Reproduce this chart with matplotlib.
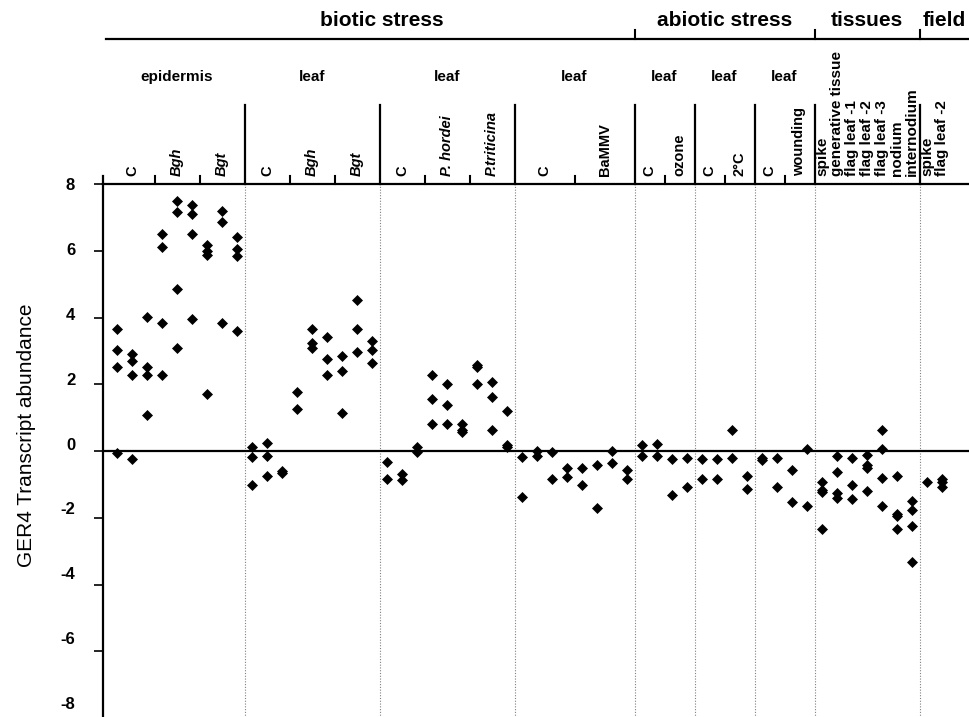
import matplotlib.pyplot as plt
from matplotlib.transforms import blended_transform_factory, ScaledTranslation

plt.rcParams['font.family'] = ['Liberation Sans', 'DejaVu Sans']

# GER4 transcript abundance, one inner list per replicate column
epi_C = [[3.66, 3.02, 2.52, -0.07], [2.91, 2.70, 2.27, -0.25], [4.02, 2.53, 2.27, 1.07]]
epi_Bgh = [[6.49, 6.10, 3.84, 2.27], [7.50, 7.17, 4.84, 3.09], [7.37, 7.10, 6.49, 3.96]]
epi_Bgt = [[6.17, 5.99, 5.86, 1.70], [7.18, 6.85, 3.85], [6.41, 6.05, 5.85, 3.59]]

leaf_C = [[0.13, -0.19, -1.02], [0.25, -0.14, -0.75], [-0.60, -0.65]]
leaf_Bgh = [[1.77, 1.26], [3.66, 3.23, 3.09], [3.42, 2.77, 2.27]]
leaf_Bgt = [[2.84, 2.40, 1.14], [4.53, 3.66, 2.96], [3.29, 3.03, 2.64]]

rust_C = [[-0.32, -0.85], [-0.69, -0.87], [0.13, -0.02]]
rust_Ph = [[2.27, 1.57, 0.81], [2.01, 1.38, 0.81], [0.81, 0.63, 0.56]]
rust_Pt = [[2.57, 2.51, 2.01], [2.08, 1.63, 0.63], [1.20, 0.18, 0.13]]

virus_C = [[-0.19, -1.39], [0.01, -0.14], [-0.02, -0.83], [-0.50, -0.77]]
virus_BaMMV = [[-0.52, -1.01], [-0.43, -1.70], [0.00, -0.37], [-0.57, -0.83]]

ozone_C = [[0.18, -0.14], [0.20, -0.15]]
ozone = [[-0.25, -1.33], [-0.20, -1.07]]
cold_C = [[-0.25, -0.83], [-0.25, -0.83]]
cold = [[0.63, -0.20], [-0.76, -1.14]]
wound_C = [[-0.20, -0.27], [-0.20, -1.07]]
wound = [[-0.57, -1.52], [0.05, -1.64]]

tissue_names = ["spike", "generative tissue", "flag leaf -1", "flag leaf -2",
                "flag leaf -3", "nodium", "internodium"]
tissue_vals = [[-0.93, -1.17, -1.24, -2.33], [-0.15, -0.62, -1.25, -1.40],
               [-0.20, -1.01, -1.44], [-0.13, -0.42, -0.50, -1.20],
               [0.63, 0.05, -0.82, -1.64], [-0.76, -1.89, -1.95, -2.34],
               [-1.49, -1.77, -2.26, -3.34]]
field_names = ["spike", "flag leaf -2"]
field_vals = [[-0.94], [-0.83, -0.92, -1.09]]

sections = ["biotic stress", "abiotic stress", "tissues", "field"]
yticks = [-8, -6, -4, -2, 0, 2, 4, 6, 8]

# (section, group label, [(condition, italic, replicate columns)])
layout = [
    (0, "epidermis", [("C", False, epi_C), ("Bgh", True, epi_Bgh), ("Bgt", True, epi_Bgt)]),
    (0, "leaf", [("C", False, leaf_C), ("Bgh", True, leaf_Bgh), ("Bgt", True, leaf_Bgt)]),
    (0, "leaf", [("C", False, rust_C), ("P. hordei", True, rust_Ph), ("P.triticina", True, rust_Pt)]),
    (0, "leaf", [("C", False, virus_C), ("BaMMV", False, virus_BaMMV)]),
    (1, "leaf", [("C", False, ozone_C), ("ozone", False, ozone)]),
    (1, "leaf", [("C", False, cold_C), ("2°C", False, cold)]),
    (1, "leaf", [("C", False, wound_C), ("wounding", False, wound)]),
    (2, "", [(n, False, [v]) for n, v in zip(tissue_names, tissue_vals)]),
    (3, "", [(n, False, [v]) for n, v in zip(field_names, field_vals)]),
]

W, H = 969, 717
fig = plt.figure(figsize=(W / 100, H / 100), dpi=100)
ax = fig.add_axes([103 / W, -1 / H, 866 / W, 534 / H])
ax.set_xlim(-14 / 15, 852 / 15)
ax.set_ylim(-8, 8)

hdr = blended_transform_factory(ax.transData, fig.transFigure)
fy = lambda p: 1 - p / H   # pixel row -> figure fraction

for s in ["right", "bottom"]:
    ax.spines[s].set_visible(False)
for s in ["left", "top"]:
    ax.spines[s].set_linewidth(1.6)
ax.set_xticks([])
ax.axhline(0, color="black", lw=1.6, zorder=2)

# y axis
ax.set_yticks(yticks)
ax.set_yticklabels([str(v) for v in yticks], fontsize=12, fontweight="bold")
ax.tick_params(axis="y", direction="out", length=6.5, width=1.2, pad=13.5)
for tick, v in zip(ax.yaxis.get_major_ticks(), yticks):
    shift = (8 - v) / 16 * 15 / 100
    tick.label1.set_transform(tick.label1.get_transform()
                              + ScaledTranslation(0, shift, fig.dpi_scale_trans))
ax.set_ylabel("GER4 Transcript abundance", fontsize=15)
ax.yaxis.set_label_coords(-0.077, 0.529)

x0 = ax.get_xlim()[0]
ax.plot([x0, x0], [fy(176), fy(184)], transform=hdr, color="black", lw=1.6, clip_on=False)

col = 0
sec_cols = {}
edges = []
for sec, glabel, conds in layout:
    g0 = col
    size = 10.5 if glabel else 11
    for k, (name, italic, reps) in enumerate(conds):
        c0 = col
        for vals in reps:
            ax.plot([col] * len(vals), vals, "D", color="black", ms=5.2, mew=0.5,
                    clip_on=False, zorder=3)
            col += 1
        ax.text((c0 + col - 1) / 2, fy(176), name, transform=hdr, rotation=90,
                ha="center", va="bottom", fontsize=size, fontweight="bold",
                style="italic" if italic else "normal")
        if glabel and k < len(conds) - 1:
            ax.plot([col - 0.5] * 2, [fy(176), fy(184)], transform=hdr,
                    color="black", lw=1.5, clip_on=False)
    if glabel:
        ax.text((g0 + col - 1) / 2, fy(81), glabel, transform=hdr, ha="center",
                va="baseline", fontsize=11, fontweight="bold")
    sec_cols.setdefault(sec, []).extend([g0, col - 1])
    edges.append(col - 0.5)

# group separators: solid in the header, dotted through the plot
for e in edges[:-1]:
    ax.plot([e, e], [fy(105), fy(184)], transform=hdr, color="black", lw=1.6,
            clip_on=False)
    ax.axvline(e, color="gray", lw=0.8, ls=(0, (1, 1.5)), zorder=1)

# section headers
ax.plot([-11 / 15, ax.get_xlim()[1]], [fy(39), fy(39)], transform=hdr,
        color="black", lw=1.6, clip_on=False)
nudge = [10, 0, 0, 10]
for i, name in enumerate(sections):
    lo, hi = min(sec_cols[i]), max(sec_cols[i])
    if i > 0:
        ax.plot([lo - 0.5] * 2, [fy(30), fy(39)], transform=hdr, color="black",
                lw=1.5, clip_on=False)
    ax.text((lo + hi) / 2 + nudge[i] / 15, fy(26), name, transform=hdr,
            ha="center", va="baseline", fontsize=15, fontweight="bold")

fig.savefig("out.png", dpi=100)
